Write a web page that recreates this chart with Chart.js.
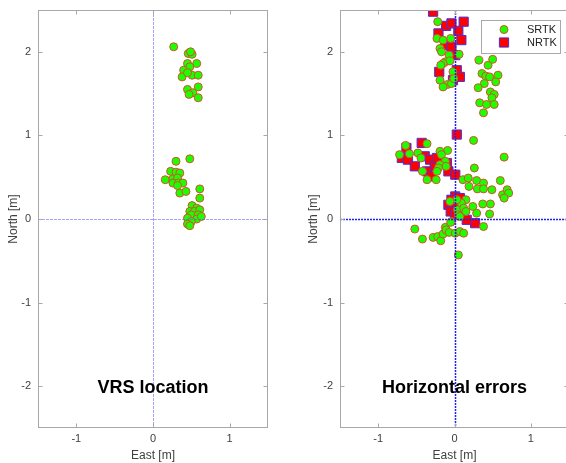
<!DOCTYPE html>
<html>
<head>
<meta charset="utf-8">
<title>VRS location / Horizontal errors</title>
<script src="https://cdn.jsdelivr.net/npm/chart.js@4.4.1/dist/chart.umd.min.js"></script>
<style>
  html, body { margin: 0; padding: 0; background: #fff; overflow: hidden; }
  body { width: 566px; height: 463px; position: relative; }
  .panel { position: absolute; top: 0; width: 280px; height: 463px; }
</style>
</head>
<body>
<div class="panel" style="left:0"><canvas id="vrsChart"></canvas></div>
<div class="panel" style="left:300px"><canvas id="errChart"></canvas></div>
<script>
// tick labels
const xTicks = [-1, 0, 1];
const yTicks = [-2, -1, 0, 1, 2];

// left panel: VRS location (east / north, metres)
const vrsEast = [0.27, 0.46, 0.51, 0.49, 0.45, 0.57, 0.48, 0.40, 0.38, 0.51, 0.59, 0.45, 0.45, 0.59, 0.52, 0.47, 0.59,
  0.30, 0.48, 0.23, 0.30, 0.35, 0.16, 0.26, 0.32, 0.26, 0.33, 0.39, 0.32, 0.35, 0.43, 0.61, 0.61,
  0.51, 0.57, 0.48, 0.54, 0.61, 0.50, 0.59, 0.45, 0.57, 0.63, 0.50, 0.45, 0.48];
const vrsNorth = [2.06, 1.98, 1.97, 2.00, 1.86, 1.86, 1.82, 1.78, 1.70, 1.72, 1.72, 1.75, 1.55, 1.58, 1.51, 1.49, 1.45,
  0.69, 0.72, 0.57, 0.56, 0.55, 0.47, 0.48, 0.49, 0.43, 0.43, 0.43, 0.40, 0.31, 0.33, 0.36, 0.25,
  0.16, 0.13, 0.09, 0.09, 0.11, 0.05, 0.05, 0.01, 0.00, 0.03, -0.03, -0.06, -0.08];

// right panel: SRTK errors
const srtkEast = [-0.22, -0.23, -0.15, -0.05, -0.19, -0.17, -0.07, 0.06, -0.12, -0.06, -0.15, -0.18, -0.02, -0.19, -0.09, -0.15, -0.04, -0.01,
  0.32, 0.44, 0.50, 0.36, 0.41, 0.46, 0.57, 0.39, 0.54, 0.31, 0.47, 0.52, 0.49, 0.33, 0.42, 0.52, 0.38,
  -0.64, -0.36, -0.72, -0.59, -0.48, -0.44, -0.19, -0.09, -0.17, -0.12, -0.19, -0.11, -0.21, -0.23, -0.42, -0.36, -0.24,
  0.25, 0.65, 0.26,
  0.11, 0.18, 0.29, 0.38, 0.19, 0.30, 0.38, 0.49, 0.60, 0.63, 0.69, 0.71, 0.65, 0.37, 0.47, 0.46, 0.29, 0.24, 0.15,
  0.09, 0.03, -0.06, 0.04, 0.12, 0.15, 0.05, -0.04, -0.12, 0.38, 0.07,
  -0.52, -0.42, -0.28, -0.22, -0.18, -0.15, -0.11, -0.07, -0.05, 0.01, 0.07, 0.12, 0.05];
const srtkNorth = [2.36, 2.16, 2.14, 2.16, 2.04, 2.00, 1.96, 1.97, 1.88, 1.89, 1.86, 1.84, 1.76, 1.66, 1.61, 1.58, 1.62, 1.68,
  1.90, 1.84, 1.91, 1.74, 1.71, 1.70, 1.72, 1.62, 1.64, 1.57, 1.52, 1.49, 1.45, 1.39, 1.37, 1.37, 1.27,
  0.88, 0.90, 0.77, 0.78, 0.79, 0.73, 0.81, 0.82, 0.77, 0.69, 0.65, 0.63, 0.61, 0.57, 0.57, 0.47, 0.47,
  0.94, 0.74, 0.61,
  0.47, 0.49, 0.46, 0.43, 0.39, 0.36, 0.36, 0.35, 0.46, 0.29, 0.35, 0.31, 0.25, 0.18, 0.18, 0.06, 0.07, 0.15, 0.23,
  0.19, 0.23, 0.21, 0.11, 0.13, 0.09, 0.05, -0.03, -0.10, -0.09, 0.03,
  -0.12, -0.24, -0.22, -0.21, -0.26, -0.18, -0.13, -0.16, -0.04, -0.17, -0.15, -0.17, -0.43];

// right panel: NRTK errors
const nrtkEast = [-0.28, -0.11, -0.04, 0.12, 0.05, -0.21, 0.09, -0.12, -0.04, 0.01, -0.20, 0.03, 0.07, -0.02,
  -0.63, -0.43, -0.69, -0.61, -0.52, -0.39, -0.32, -0.26, -0.23, -0.36, -0.30, -0.10, -0.08, 0.01, 0.03,
  0.01, -0.04, -0.08, 0.03, 0.07, -0.05, 0.09, 0.01, 0.16, 0.27];
const nrtkNorth = [2.48, 2.31, 2.34, 2.36, 2.25, 2.22, 2.14, 2.08, 2.06, 1.96, 1.76, 1.78, 1.70, 1.66,
  0.85, 0.91, 0.73, 0.71, 0.63, 0.75, 0.71, 0.63, 0.73, 0.57, 0.51, 0.67, 0.57, 0.53, 1.01,
  0.27, 0.23, 0.17, 0.19, 0.25, 0.09, 0.09, 0.05, -0.01, -0.05];

const toPoints = (xs, ys) => xs.map((v, i) => ({ x: v, y: ys[i] }));

const FONT = '"Liberation Sans", Arial, Helvetica, sans-serif';
Chart.defaults.font.family = FONT;
Chart.defaults.color = '#404040';

const GREEN = '#1cff00', GREEN_EDGE = '#d8502c';
const RED = '#ff0000', RED_EDGE = '#4a2ee0';

// box, inward ticks, zero lines, panel label and legend (MATLAB look)
const frame = {
  id: 'frame',
  afterDatasetsDraw(chart, args, opts) {
    const { ctx, chartArea: a, scales } = chart;
    const sx = scales.x, sy = scales.y;
    ctx.save();
    const seg = (x1, y1, x2, y2) => { ctx.beginPath(); ctx.moveTo(x1, y1); ctx.lineTo(x2, y2); ctx.stroke(); };

    // zero lines
    ctx.strokeStyle = opts.zeroColor;
    ctx.lineWidth = opts.zeroWidth;
    ctx.setLineDash(opts.zeroDash);
    const x0 = Math.round(sx.getPixelForValue(0)) + 0.5;
    const y0 = Math.round(sy.getPixelForValue(0)) + 0.5;
    seg(a.left, y0, a.right, y0);
    seg(x0, a.top, x0, a.bottom);
    ctx.setLineDash([]);

    // box + ticks
    ctx.strokeStyle = '#a8a8a8';
    ctx.lineWidth = 1;
    const L = Math.round(a.left) + 0.5, R = Math.round(a.right) - 0.5;
    const T = Math.round(a.top) + 0.5, B = Math.round(a.bottom) - 0.5;
    ctx.strokeRect(L, T, R - L, B - T);
    xTicks.forEach(v => {
      const px = Math.round(sx.getPixelForValue(v)) + 0.5;
      seg(px, B, px, B - 4);
      seg(px, T, px, T + 4);
    });
    yTicks.forEach(v => {
      const py = Math.round(sy.getPixelForValue(v)) + 0.5;
      seg(L, py, L + 4, py);
      seg(R, py, R - 4, py);
    });

    // panel label
    ctx.fillStyle = '#000';
    ctx.font = 'bold 18px ' + FONT;
    ctx.textAlign = 'center';
    ctx.textBaseline = 'middle';
    ctx.fillText(opts.label, sx.getPixelForValue(0), sy.getPixelForValue(-2) + 2);

    // legend
    if (opts.legend) {
      const right = a.right - 9, left = right - 79, top = a.top + 10, h = 33;
      ctx.fillStyle = '#fff';
      ctx.fillRect(left, top, right - left, h);
      ctx.strokeStyle = '#a8a8a8';
      ctx.strokeRect(left + 0.5, top + 0.5, right - left, h);
      chart.data.datasets.forEach((ds, i) => {
        const cy = top + 9.5 + i * 13;
        const cx = left + 23;
        ctx.fillStyle = ds.backgroundColor;
        ctx.strokeStyle = ds.borderColor;
        ctx.lineWidth = 1;
        ctx.beginPath();
        if (ds.pointStyle === 'rect') {
          const s = ds.pointRadius * Math.SQRT1_2;
          ctx.rect(cx - s, cy - s, 2 * s, 2 * s);
        } else {
          ctx.arc(cx, cy, ds.pointRadius, 0, Math.PI * 2);
        }
        ctx.fill();
        ctx.stroke();
        ctx.fillStyle = '#222';
        ctx.font = '11px ' + FONT;
        ctx.textAlign = 'left';
        ctx.fillText(ds.label, left + 46, cy);
      });
    }
    ctx.restore();
  }
};

const makeScales = (yWidth) => ({
  x: {
    type: 'linear', min: -1.5, max: 1.5,
    afterBuildTicks: s => { s.ticks = xTicks.map(v => ({ value: v })); },
    afterFit: s => { s.height = 35; s.paddingLeft = 0; s.paddingRight = 0; },
    grid: { display: false, drawTicks: false },
    border: { display: false },
    ticks: { padding: 4, font: { size: 11 }, color: '#404040' },
    title: { display: true, text: 'East [m]', font: { size: 12 }, color: '#404040', padding: { top: 0, bottom: 0 } }
  },
  y: {
    type: 'linear', min: -2.5, max: 2.5,
    afterBuildTicks: s => { s.ticks = yTicks.map(v => ({ value: v })); },
    afterFit: s => { s.width = yWidth; s.paddingTop = 0; s.paddingBottom = 0; },
    grid: { display: false, drawTicks: false },
    border: { display: false },
    ticks: { padding: 7, font: { size: 11 }, color: '#404040' },
    title: { display: true, text: 'North [m]', font: { size: 12 }, color: '#404040', padding: { top: 6, bottom: 0 } }
  }
});

document.addEventListener('DOMContentLoaded', function () {
  new Chart(document.getElementById('vrsChart'), {
    type: 'scatter',
    data: {
      datasets: [{
        label: 'VRS',
        data: toPoints(vrsEast, vrsNorth),
        pointStyle: 'circle',
        pointRadius: 4,
        pointBorderWidth: 1,
        backgroundColor: GREEN,
        borderColor: GREEN_EDGE
      }]
    },
    options: {
      responsive: true,
      maintainAspectRatio: false,
      animation: false,
      events: [],
      layout: { padding: { top: 10, right: 12, left: 0, bottom: 0 } },
      scales: makeScales(38),
      plugins: {
        legend: { display: false },
        tooltip: { enabled: false },
        frame: { label: 'VRS location', zeroColor: 'rgba(90, 90, 255, 0.55)', zeroWidth: 1, zeroDash: [3, 1], legend: false }
      }
    },
    plugins: [frame]
  });

  new Chart(document.getElementById('errChart'), {
    type: 'scatter',
    data: {
      datasets: [{
        label: 'SRTK',
        data: toPoints(srtkEast, srtkNorth),
        pointStyle: 'circle',
        pointRadius: 4,
        pointBorderWidth: 1,
        backgroundColor: GREEN,
        borderColor: GREEN_EDGE
      }, {
        label: 'NRTK',
        data: toPoints(nrtkEast, nrtkNorth),
        pointStyle: 'rect',
        pointRadius: 6.5,
        pointBorderWidth: 1,
        backgroundColor: RED,
        borderColor: RED_EDGE
      }]
    },
    options: {
      responsive: true,
      maintainAspectRatio: false,
      animation: false,
      events: [],
      layout: { padding: { top: 10, right: 11, left: 0, bottom: 0 } },
      scales: makeScales(40),
      plugins: {
        legend: { display: false },
        tooltip: { enabled: false },
        frame: { label: 'Horizontal errors', zeroColor: '#2323e6', zeroWidth: 1.5, zeroDash: [2, 1], legend: true }
      }
    },
    plugins: [frame]
  });
});
</script>
</body>
</html>
